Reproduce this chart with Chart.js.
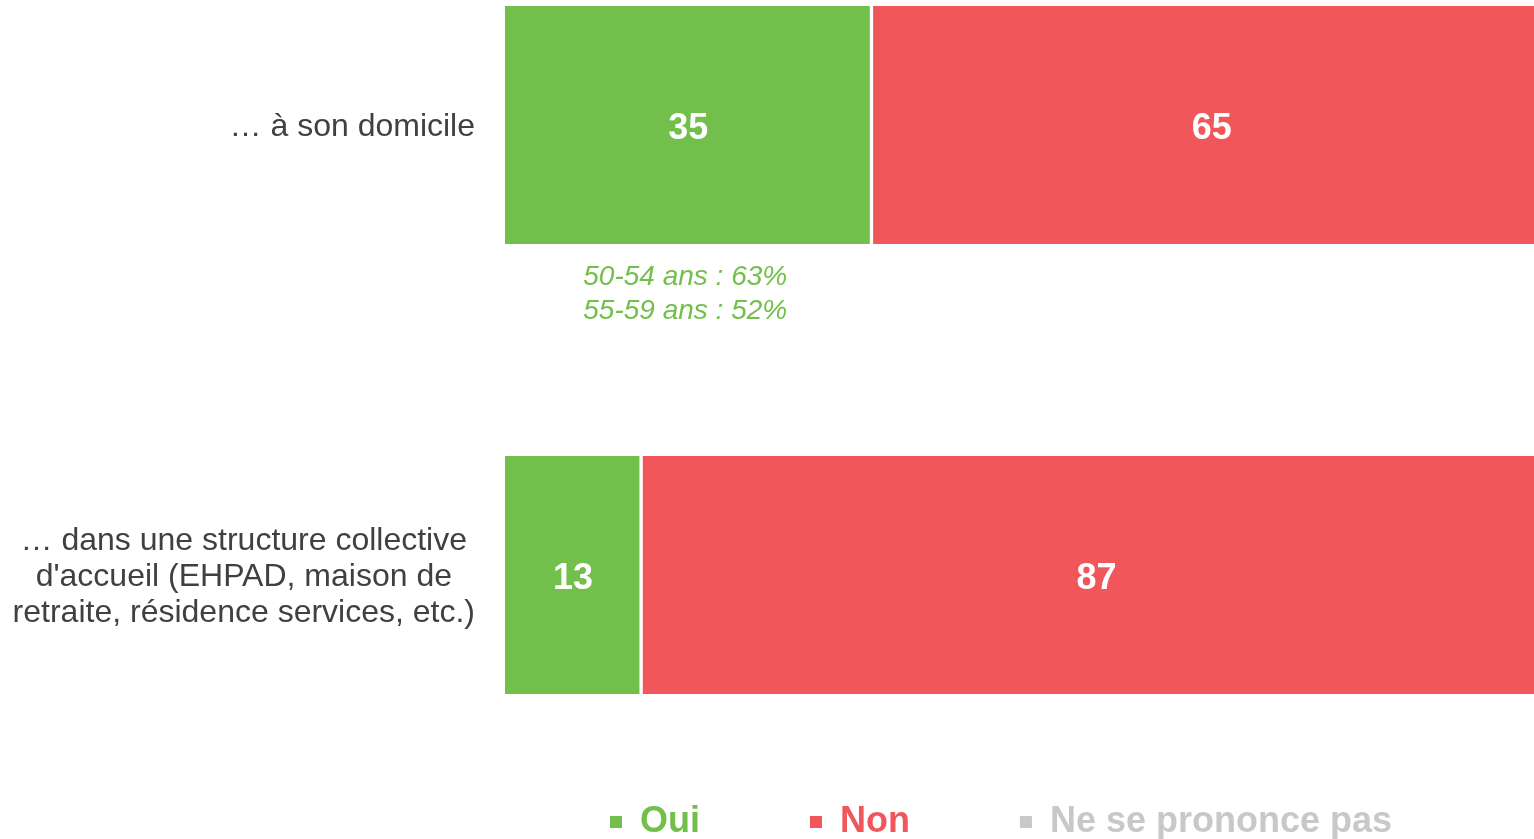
<!DOCTYPE html>
<html>
<head>
<meta charset="utf-8">
<script src="https://cdn.jsdelivr.net/npm/chart.js@4/dist/chart.umd.min.js"></script>
<style>
    html, body { margin: 0; padding: 0; background: #fff; overflow: hidden; }
    canvas { display: block; }
</style>
</head>
<body>
<!-- a bit larger than the window: the right end of the bars is cut off like in the original -->
<canvas id="chart" width="1552" height="850"></canvas>
<script>
var categories = [
    ['… à son domicile'],
    ['… dans une structure collective', "d'accueil (EHPAD, maison de", 'retraite, résidence services, etc.)']
];
var seriesNames = ['Oui', 'Non', 'Ne se prononce pas'];
var oui = [35, 13];
var non = [65, 87];
var nsp = [0, 0];
var notes = ['50-54 ans : 63%', '55-59 ans : 52%'];

var GREEN = '#72BF4B';
var RED = '#F0565A';
var GREY = '#C8C8C8';
var FONT = "'Liberation Sans', Arial, sans-serif";

// category labels: block right aligned, lines centred
var sideLabels = {
    id: 'sideLabels',
    afterDraw: function (chart) {
        var ctx = chart.ctx;
        var yScale = chart.scales.y;
        ctx.save();
        ctx.font = '32px ' + FONT;
        ctx.fillStyle = '#404040';
        ctx.textAlign = 'center';
        ctx.textBaseline = 'middle';
        categories.forEach(function (lines, i) {
            var w = Math.max.apply(null, lines.map(function (l) { return ctx.measureText(l).width; }));
            var cx = chart.chartArea.left - 30 - w / 2;
            var cy = yScale.getPixelForValue(i) + 2;
            lines.forEach(function (l, j) {
                ctx.fillText(l, cx, cy + (j - (lines.length - 1) / 2) * 36);
            });
        });
        ctx.restore();
    }
};

// white numbers inside the bars + note under the first green bar
var barValues = {
    id: 'barValues',
    afterDatasetsDraw: function (chart) {
        var ctx = chart.ctx;
        ctx.save();
        ctx.font = 'bold 36px ' + FONT;
        ctx.fillStyle = '#ffffff';
        ctx.textAlign = 'center';
        ctx.textBaseline = 'middle';
        chart.data.datasets.forEach(function (ds, di) {
            chart.getDatasetMeta(di).data.forEach(function (bar, i) {
                if (!ds.data[i]) return;
                var p = bar.getCenterPoint();
                ctx.fillText(ds.data[i], p.x, p.y + 4);
            });
        });
        var first = chart.getDatasetMeta(0).data[0];
        var c = first.getCenterPoint();
        var bottom = first.y + first.height / 2;
        ctx.font = 'italic 28px ' + FONT;
        ctx.fillStyle = GREEN;
        notes.forEach(function (t, j) {
            ctx.fillText(t, c.x - 3, bottom + 33 + j * 34);
        });
        ctx.restore();
    }
};

var data = {
    labels: categories,
    datasets: [{
        label: seriesNames[0],
        data: oui,
        backgroundColor: GREEN,
        borderColor: '#ffffff',
        borderWidth: { left: 0, right: 2, top: 0, bottom: 0 }
    },
    {
        label: seriesNames[1],
        data: non,
        backgroundColor: RED,
        borderColor: '#ffffff',
        borderWidth: { left: 2, right: 0, top: 0, bottom: 0 }
    },
    {
        label: seriesNames[2],
        data: nsp,
        backgroundColor: GREY,
        borderWidth: 0
    }]
};

var myChart = new Chart(document.getElementById('chart').getContext('2d'), {
    type: 'bar',
    data: data,
    plugins: [sideLabels, barValues],
    options: {
        indexAxis: 'y',
        responsive: false,
        animation: false,
        layout: {
            padding: { left: 450, right: 0, top: 125, bottom: 0 }
        },
        datasets: {
            bar: {
                barThickness: 238,
                borderSkipped: false,
                clip: false
            }
        },
        plugins: {
            tooltip: { enabled: false },
            legend: {
                position: 'bottom',
                labels: {
                    usePointStyle: true,
                    pointStyle: 'rect',
                    boxWidth: 12,
                    boxHeight: 12,
                    padding: 110,
                    font: {
                        size: 36,
                        weight: 'bold',
                        family: FONT
                    },
                    generateLabels: function (chart) {
                        var items = Chart.defaults.plugins.legend.labels.generateLabels(chart);
                        items.forEach(function (it) {
                            it.fontColor = it.fillStyle;
                            it.strokeStyle = it.fillStyle;
                            it.lineWidth = 0;
                        });
                        return items;
                    }
                }
            }
        },
        scales: {
            x: {
                stacked: true,
                min: 0,
                max: 100,
                grid: { display: false },
                border: { display: false },
                ticks: { display: false },
                afterFit: function (scale) { scale.height = 119; }
            },
            y: {
                stacked: true,
                offset: false,
                grid: { display: false },
                border: { display: false },
                ticks: { display: false },
                afterFit: function (scale) { scale.width = 55; }
            }
        }
    }
});
</script>
</body>
</html>
